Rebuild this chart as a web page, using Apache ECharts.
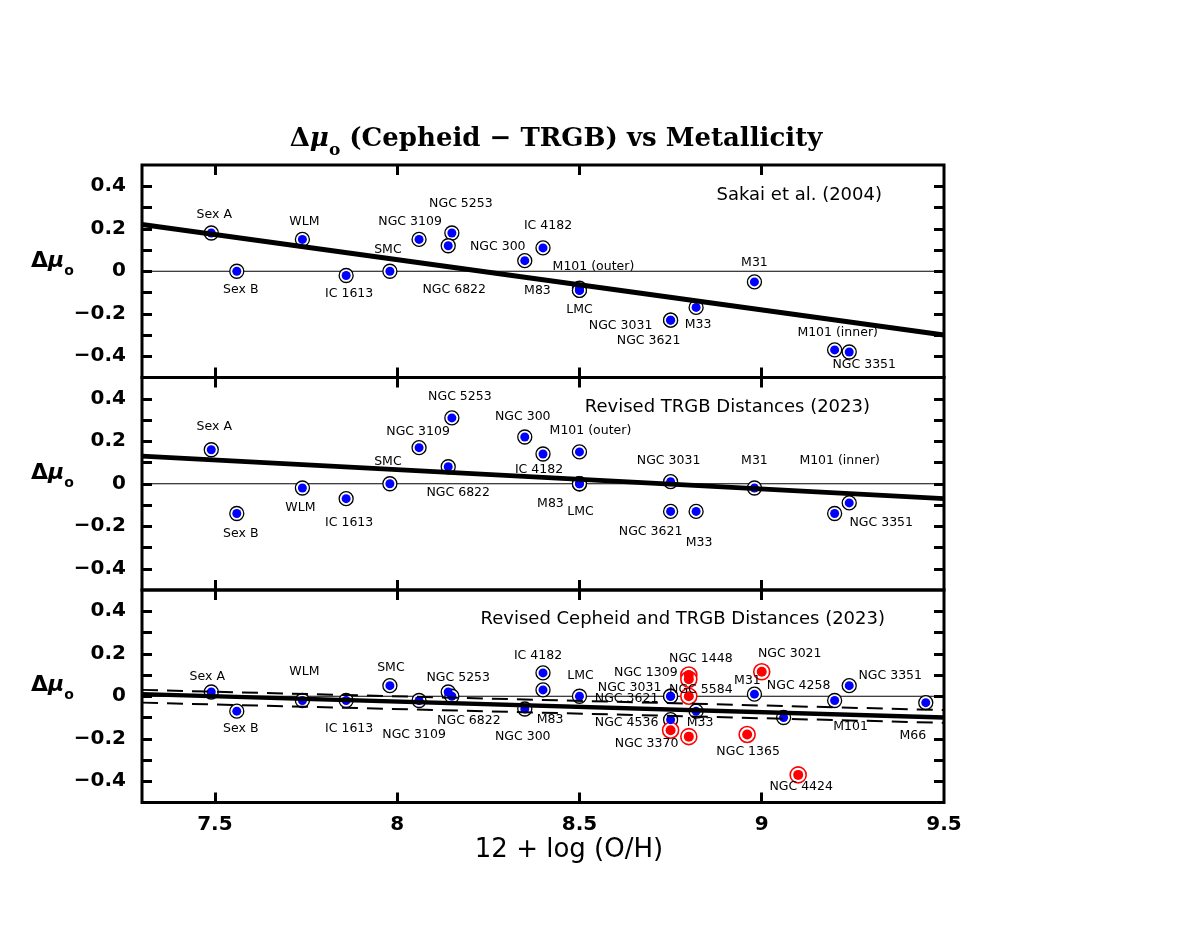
<!DOCTYPE html>
<html><head><meta charset="utf-8">
<script src="https://cdn.jsdelivr.net/npm/echarts@6/dist/echarts.min.js"></script>
<style>html,body{margin:0;padding:0;background:#fff}#c{width:1199px;height:926px}</style>
</head><body><div id="c"></div>
<script>
// ---------------- data ----------------
const xRange = [7.3, 9.5];
const yRange = [-0.5, 0.5];
const xTickValues = [7.5, 8, 8.5, 9];
const xLabelValues = [7.5, 8, 8.5, 9, 9.5];
const yLabelValues = [-0.4, -0.2, 0, 0.2, 0.4];
const fitX = [7.3, 9.5];

const xName = '12 + log (O/H)';
const panelTitles = ['Sakai et al. (2004)', 'Revised TRGB Distances (2023)', 'Revised Cepheid and TRGB Distances (2023)'];

// Panel 1: Sakai et al. (2004)
const p1Names = ['Sex A','Sex B','WLM','IC 1613','SMC','NGC 3109','NGC 5253','NGC 6822','NGC 300','IC 4182','M83','LMC','M101 (outer)','NGC 3031','NGC 3621','M33','M31','M101 (inner)','NGC 3351'];
const p1X = [7.49, 7.56, 7.74, 7.86, 7.98, 8.06, 8.15, 8.14, 8.35, 8.40, 8.50, 8.50, 8.50, 8.75, 8.75, 8.82, 8.98, 9.20, 9.24];
const p1Y = [0.18, 0.00, 0.15, -0.02, 0.00, 0.15, 0.18, 0.12, 0.05, 0.11, -0.09, -0.08, -0.09, -0.23, -0.23, -0.17, -0.05, -0.37, -0.38];
const p1FitY = [0.22, -0.30];

// Panel 2: Revised TRGB distances
const p2Names = ['Sex A','Sex B','WLM','IC 1613','SMC','NGC 3109','NGC 5253','NGC 6822','NGC 300','IC 4182','M101 (outer)','M83','LMC','NGC 3031','NGC 3621','M33','M31','M101 (inner)','NGC 3351'];
const p2X = [7.49, 7.56, 7.74, 7.86, 7.98, 8.06, 8.15, 8.14, 8.35, 8.40, 8.50, 8.50, 8.50, 8.75, 8.75, 8.82, 8.98, 9.20, 9.24];
const p2Y = [0.16, -0.14, -0.02, -0.07, 0.00, 0.17, 0.31, 0.08, 0.22, 0.14, 0.15, 0.00, 0.00, 0.01, -0.13, -0.13, -0.02, -0.14, -0.09];
const p2FitY = [0.13, -0.07];

// Panel 3: Revised Cepheid and TRGB distances
const p3BlueNames = ['Sex A','Sex B','WLM','IC 1613','SMC','NGC 3109','NGC 5253','NGC 6822','NGC 300','IC 4182','M83','LMC','NGC 3031','NGC 3621','NGC 4536','M33','M31','M101','NGC 4258','NGC 3351','M66'];
const p3BlueX = [7.49, 7.56, 7.74, 7.86, 7.98, 8.06, 8.14, 8.15, 8.35, 8.40, 8.40, 8.50, 8.75, 8.75, 8.75, 8.82, 8.98, 9.06, 9.20, 9.24, 9.45];
const p3BlueY = [0.02, -0.07, -0.02, -0.02, 0.05, -0.02, 0.02, 0.00, -0.06, 0.11, 0.03, 0.00, 0.00, 0.00, -0.11, -0.07, 0.01, -0.10, -0.02, 0.05, -0.03];
const p3RedNames = ['NGC 1448','NGC 1309','NGC 5584','NGC 3370','','NGC 1365','NGC 3021','NGC 4424'];
const p3RedX = [8.80, 8.80, 8.80, 8.75, 8.80, 8.96, 9.00, 9.10];
const p3RedY = [0.10, 0.08, 0.00, -0.16, -0.19, -0.18, 0.115, -0.37];
const p3FitY = [0.01, -0.10];
const p3DashUpperY = [0.03, -0.065];
const p3DashLowerY = [-0.03, -0.125];

// ---------------- label placement (pixel offsets, style only) ----------------
const p1Off = {'Sex A':[3,-18],'WLM':[2,-18],'Sex B':[4,18],'IC 1613':[3,18],'SMC':[-2,-22],'NGC 3109':[-9,-18],'NGC 5253':[9,-29],'NGC 6822':[6,44],'NGC 300':[-27,-14],'IC 4182':[5,-22],'M83':[-42,0],'LMC':[0,21],'M101 (outer)':[14,-24],'NGC 3031':[-50,6],'NGC 3621':[-22,21],'M33':[2,17],'M31':[0,-19],'M101 (inner)':[3,-17],'NGC 3351':[15,13]};
const p2Off = {'Sex A':[3,-23],'Sex B':[4,20],'WLM':[-2,20],'IC 1613':[3,24],'SMC':[-2,-22],'NGC 3109':[-1,-16],'NGC 5253':[8,-21],'NGC 6822':[10,26],'NGC 300':[-2,-20],'IC 4182':[-4,16],'M101 (outer)':[11,-21],'M83':[-29,20],'LMC':[1,28],'NGC 3031':[-2,-21],'NGC 3621':[-20,20],'M33':[3,31],'M31':[0,-27],'M101 (inner)':[5,-53],'NGC 3351':[32,20]};
const p3BlueOff = {'Sex A':[-4,-15],'Sex B':[4,18],'WLM':[2,-29],'IC 1613':[3,28],'SMC':[1,-18],'NGC 3109':[-5,34],'NGC 5253':[10,-14],'NGC 6822':[17,24],'NGC 300':[-2,28],'IC 4182':[-5,-17],'M83':[7,30],'LMC':[1,-21],'NGC 3031':[-41,-9],'NGC 3621':[-44,2],'NGC 4536':[-44,3],'M33':[4,12],'M31':[-7,-13],'M101':[67,9],'NGC 4258':[-36,-15],'NGC 3351':[41,-10],'M66':[-13,33]};
const p3RedOff = {'NGC 1448':[12,-16],'NGC 1309':[-43,-7],'NGC 5584':[12,-7],'NGC 3370':[-24,13],'NGC 1365':[1,17],'NGC 3021':[28,-18],'NGC 4424':[3,12]};

// ---------------- layout ----------------
const gridTops = [165, 377.5, 590];
const gridH = 212.5;
const gridLeft = 142, gridW = 802;
const LBL_FONT = 'DejaVu Sans';

const chart = echarts.init(document.getElementById('c'), null, {renderer: 'canvas'});

const grids = gridTops.map(t => ({left: gridLeft, top: t, width: gridW, height: gridH, show: true, borderColor: '#000', borderWidth: 3, backgroundColor: 'transparent'}));

const tickStyle = {color: '#000', width: 3};
const xAxes = [], yAxes = [];
for (let i = 0; i < 3; i++) {
  xAxes.push({
    type: 'value', gridIndex: i, position: 'bottom', min: xRange[0], max: xRange[1],
    axisLine: {show: false, onZero: false}, splitLine: {show: false},
    axisTick: {show: true, inside: true, length: 10, customValues: xTickValues, lineStyle: tickStyle},
    axisLabel: {show: i === 2, customValues: xLabelValues, margin: 12, color: '#000', fontFamily: LBL_FONT, fontWeight: 'bold', fontSize: 20,
      formatter: v => String(+v.toFixed(1))}
  });
}
for (let i = 0; i < 3; i++) {
  xAxes.push({
    type: 'value', gridIndex: i, position: 'top', min: xRange[0], max: xRange[1],
    axisLine: {show: false, onZero: false}, splitLine: {show: false}, axisLabel: {show: false},
    axisTick: {show: true, inside: true, length: 10, customValues: xTickValues, lineStyle: tickStyle}
  });
}
const yTickVals = [-0.4,-0.3,-0.2,-0.1,0,0.1,0.2,0.3,0.4];
const fmtY = v => { const r = Math.round(v * 10) / 10; if (r === 0) return '0'; return (r < 0 ? '−' : '') + Math.abs(r).toFixed(1); };
for (let i = 0; i < 3; i++) {
  yAxes.push({
    type: 'value', gridIndex: i, position: 'left', min: yRange[0], max: yRange[1],
    axisLine: {show: false, onZero: false}, splitLine: {show: false},
    axisTick: {show: true, inside: true, length: 10, customValues: yTickVals, lineStyle: tickStyle},
    axisLabel: {show: true, customValues: yLabelValues, margin: 16, color: '#000', fontFamily: LBL_FONT, fontWeight: 'bold', fontSize: 20, formatter: fmtY}
  });
}
for (let i = 0; i < 3; i++) {
  yAxes.push({
    type: 'value', gridIndex: i, position: 'right', min: yRange[0], max: yRange[1],
    axisLine: {show: false, onZero: false}, splitLine: {show: false}, axisLabel: {show: false},
    axisTick: {show: true, inside: true, length: 10, customValues: yTickVals, lineStyle: tickStyle}
  });
}

const series = [];
function addZero(i) {
  series.push({type: 'line', xAxisIndex: i, yAxisIndex: i, data: xRange.map(x => [x, 0]), symbol: 'none',
    lineStyle: {color: '#000', width: 1}, z: 1, silent: true, animation: false});
}
function addPoints(i, names, xs, ys, off, fill, ringColor, ringSize, dotSize, ringW) {
  series.push({type: 'scatter', xAxisIndex: i, yAxisIndex: i, symbol: 'circle', symbolSize: ringSize,
    data: xs.map((x, k) => [x, ys[k]]),
    itemStyle: {color: '#fff', borderColor: ringColor, borderWidth: ringW, opacity: 1},
    z: 2, silent: true, animation: false, emphasis: {disabled: true}});
  series.push({type: 'scatter', xAxisIndex: i, yAxisIndex: i, symbol: 'circle', symbolSize: dotSize,
    data: xs.map((x, k) => ({value: [x, ys[k]], name: names[k],
      label: {show: names[k] !== '', offset: off[names[k]] || [0, 0]}})),
    itemStyle: {color: fill, opacity: 1},
    label: {position: 'inside', formatter: p => p.name, color: '#000', fontFamily: LBL_FONT, fontSize: 12.5, align: 'center', verticalAlign: 'middle'},
    z: 3, silent: true, animation: false, emphasis: {disabled: true}});
}
function addLine(i, ys, width, dashed) {
  series.push({type: 'line', xAxisIndex: i, yAxisIndex: i, data: fitX.map((x, k) => [x, ys[k]]), symbol: 'none',
    lineStyle: {color: '#000', width: width, type: dashed ? [16, 9] : 'solid', cap: 'butt'}, z: 4, silent: true, animation: false});
}

addZero(0); addZero(1); addZero(2);
addPoints(0, p1Names, p1X, p1Y, p1Off, '#0000ff', '#000', 14, 9, 1.3);
addLine(0, p1FitY, 5, false);
addPoints(1, p2Names, p2X, p2Y, p2Off, '#0000ff', '#000', 14, 9, 1.3);
addLine(1, p2FitY, 5, false);
addPoints(2, p3BlueNames, p3BlueX, p3BlueY, p3BlueOff, '#0000ff', '#000', 14, 9, 1.3);
addPoints(2, p3RedNames, p3RedX, p3RedY, p3RedOff, '#ff0000', '#ff0000', 16, 10, 1.6);
addLine(2, p3FitY, 4.5, false);
addLine(2, p3DashUpperY, 2, true);
addLine(2, p3DashLowerY, 2, true);

const panelTitleRight = [312, 324, 309];
const panelTitleTop = [181, 393, 605];
const titles = [{
  text: '{t|Δ}{m|μ}{s|o}{t| (Cepheid − TRGB) vs Metallicity}',
  left: 551, top: 114, textAlign: 'center',
  textStyle: {rich: {
    t: {fontFamily: 'DejaVu Serif', fontWeight: 'bold', fontSize: 26, color: '#000', lineHeight: 40},
    m: {fontFamily: 'DejaVu Serif', fontWeight: 'bold', fontStyle: 'italic', fontSize: 26, color: '#000', lineHeight: 40},
    s: {fontFamily: 'DejaVu Serif', fontWeight: 'bold', fontSize: 17, color: '#000', lineHeight: 17, verticalAlign: 'bottom'}
  }}
}];
panelTitles.forEach((t, i) => titles.push({text: t, right: panelTitleRight[i], top: panelTitleTop[i],
  textStyle: {fontFamily: LBL_FONT, fontSize: 18, fontWeight: 'normal', color: '#000'}}));

const yNameTops = [268, 480, 692];
const graphic = yNameTops.map(y => ({
  type: 'text', left: 31, top: y - 18, silent: true,
  style: {text: '{t|Δ}{m|μ}{s|o}', rich: {
    t: {fontFamily: LBL_FONT, fontWeight: 'bold', fontSize: 22, fill: '#000', lineHeight: 34},
    m: {fontFamily: LBL_FONT, fontWeight: 'bold', fontStyle: 'italic', fontSize: 22, fill: '#000', lineHeight: 34},
    s: {fontFamily: LBL_FONT, fontWeight: 'bold', fontSize: 14, fill: '#000', lineHeight: 14, verticalAlign: 'bottom'}
  }}
}));
graphic.push({type: 'text', silent: true,
  style: {text: xName, x: 569, y: 850, fontFamily: LBL_FONT, fontSize: 26, fill: '#000', align: 'center', verticalAlign: 'middle'}});

chart.setOption({
  animation: false,
  backgroundColor: '#fff',
  title: titles,
  grid: grids,
  xAxis: xAxes,
  yAxis: yAxes,
  series: series,
  graphic: graphic
});
</script></body></html>
